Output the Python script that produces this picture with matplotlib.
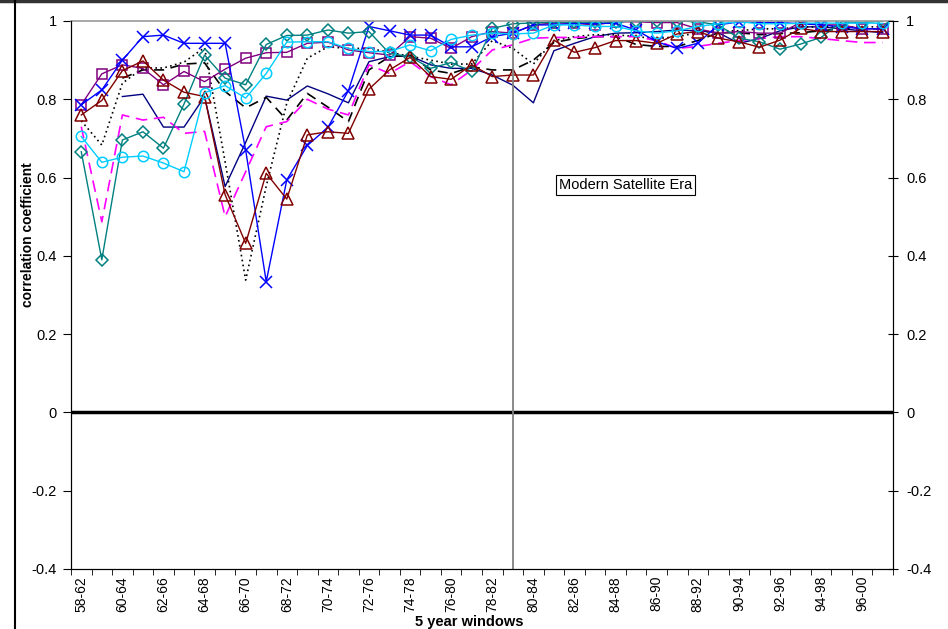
"""Correlation coefficients over 5 year windows, several datasets."""

import numpy as np
import matplotlib

matplotlib.use("Agg")
import matplotlib.pyplot as plt
from matplotlib.lines import Line2D

plt.rcParams["font.family"] = ["Liberation Sans", "DejaVu Sans"]

nan = np.nan

windows = [
    "58-62", "59-63", "60-64", "61-65", "62-66", "63-67", "64-68", "65-69",
    "66-70", "67-71", "68-72", "69-73", "70-74", "71-75", "72-76", "73-77",
    "74-78", "75-79", "76-80", "77-81", "78-82", "79-83", "80-84", "81-85",
    "82-86", "83-87", "84-88", "85-89", "86-90", "87-91", "88-92", "89-93",
    "90-94", "91-95", "92-96", "93-97", "94-98", "95-99", "96-00", "97-01",
]

navy_solid = [
    nan, nan, 0.807, 0.813, 0.729, 0.729, 0.807, 0.577, 0.690, 0.808,
    0.798, 0.834, 0.814, 0.791, 0.896, 0.909, 0.911, 0.888, 0.879, 0.879,
    0.862, 0.836, 0.791, 0.924, 0.943, 0.960, 0.969, 0.970, 0.973, 0.977,
    0.975, 0.970, 0.943, 0.955, 0.975, 0.985, 0.985, 0.980, 0.975, 0.970,
]
black_dotted = [
    0.745, 0.683, 0.841, 0.880, 0.880, 0.895, 0.932, 0.640, 0.338, 0.578,
    0.790, 0.905, 0.934, 0.930, 0.930, 0.920, 0.910, 0.900, 0.890, 0.890,
    0.950, 0.930, 0.890, 0.950, 0.960, 0.965, 0.965, 0.960, 0.955, 0.960,
    0.970, 0.975, 0.975, 0.980, 0.980, 0.985, 0.985, 0.985, 0.985, 0.985,
]
black_dashed = [
    nan, nan, 0.854, 0.875, 0.875, 0.890, 0.893, 0.820, 0.778, 0.805,
    0.747, 0.815, 0.780, 0.743, 0.875, 0.909, 0.913, 0.875, 0.866, 0.883,
    0.875, 0.875, 0.900, 0.945, 0.955, 0.960, 0.960, 0.940, 0.935, 0.935,
    0.950, 0.970, 0.970, 0.965, 0.968, 0.970, 0.975, 0.980, 0.980, 0.980,
]
magenta_dashed = [
    0.730, 0.487, 0.760, 0.747, 0.754, 0.713, 0.718, 0.500, 0.615, 0.730,
    0.743, 0.800, 0.775, 0.760, 0.888, 0.866, 0.896, 0.858, 0.837, 0.875,
    0.926, 0.939, 0.956, 0.958, 0.958, 0.960, 0.960, 0.960, 0.950, 0.930,
    0.935, 0.943, 0.950, 0.955, 0.960, 0.960, 0.955, 0.950, 0.945, 0.945,
]
purple_sq = [
    0.786, 0.865, 0.888, 0.879, 0.837, 0.871, 0.845, 0.877, 0.905, 0.919,
    0.920, 0.943, 0.946, 0.926, 0.919, 0.913, 0.960, 0.956, 0.930, 0.960,
    0.973, 0.969, 0.990, 0.995, 0.994, 0.990, 0.998, 0.998, 0.996, 0.996,
    0.980, 0.969, 0.973, 0.969, 0.969, 0.996, 0.990, 0.990, 0.980, 0.980,
]
blue_x = [
    0.786, 0.824, 0.900, 0.960, 0.964, 0.943, 0.943, 0.943, 0.670, 0.334,
    0.594, 0.682, 0.728, 0.822, 0.986, 0.975, 0.964, 0.964, 0.934, 0.934,
    0.960, 0.969, 0.990, 0.990, 0.994, 0.994, 0.994, 0.977, 0.947, 0.930,
    0.943, 0.990, 0.998, 0.996, 0.996, 0.993, 0.990, 0.985, 0.980, 0.980,
]
teal_dm = [
    0.666, 0.390, 0.696, 0.717, 0.675, 0.788, 0.913, 0.854, 0.837, 0.940,
    0.963, 0.964, 0.977, 0.969, 0.973, 0.917, 0.909, 0.879, 0.894, 0.871,
    0.981, 0.993, 0.995, 0.997, 0.997, 0.997, 0.998, 1.000, 1.000, 1.000,
    0.998, 0.990, 0.956, 0.947, 0.928, 0.941, 0.958, 0.998, 0.996, 1.000,
]
red_tr = [
    0.760, 0.797, 0.873, 0.898, 0.849, 0.818, 0.807, 0.556, 0.432, 0.611,
    0.545, 0.709, 0.717, 0.713, 0.826, 0.875, 0.907, 0.858, 0.851, 0.888,
    0.858, 0.862, 0.862, 0.951, 0.920, 0.932, 0.950, 0.950, 0.943, 0.967,
    0.973, 0.956, 0.947, 0.933, 0.951, 0.981, 0.973, 0.973, 0.973, 0.973,
]
cyan_ci = [
    0.705, 0.639, 0.652, 0.655, 0.637, 0.615, 0.817, 0.835, 0.803, 0.866,
    0.946, 0.947, 0.947, 0.930, 0.922, 0.922, 0.939, 0.924, 0.953, 0.964,
    0.969, 0.967, 0.969, 0.990, 0.990, 0.986, 0.986, 0.975, 0.969, 0.975,
    0.986, 0.993, 0.998, 0.993, 0.993, 0.994, 0.995, 0.994, 0.995, 0.994,
]

y_ticks = [-0.4, -0.2, 0, 0.2, 0.4, 0.6, 0.8, 1]
y_tick_labels = ["-0.4", "-0.2", "0", "0.2", "0.4", "0.6", "0.8", "1"]

satellite_start = "79-83"


def main() -> None:
    W, H = 948, 629
    fig = plt.figure(figsize=(W / 100, H / 100), dpi=100, facecolor="white")
    ax = fig.add_axes([71 / W, 1 - 569 / H, 822 / W, 548 / H])

    x = np.arange(len(windows))

    # (values, color, linestyle, marker, marker size)
    series = [
        (navy_solid, "#000080", "-", None, 0),
        (black_dotted, "black", (0, (1, 2)), None, 0),
        (black_dashed, "black", (0, (6, 4)), None, 0),
        (magenta_dashed, "#FF00FF", (0, (7, 4)), None, 0),
        (purple_sq, "#800080", "-", "s", 7.5),
        (blue_x, "#0000FF", "-", "x", 8),
        (teal_dm, "#008080", "-", "D", 6),
        (red_tr, "#800000", "-", "^", 8),
        (cyan_ci, "#00CCFF", "-", "o", 7.5),
    ]
    for vals, col, ls, mk, ms in series:
        ax.plot(x, vals, color=col, linestyle=ls, lw=1.2 if ls != "-" else 1.0,
                marker=mk, markersize=ms, markerfacecolor="none",
                markeredgecolor=col, markeredgewidth=1.1)

    ax.axhline(0, color="black", lw=2.5, zorder=1)
    ax.axvline(windows.index(satellite_start), color="#808080", lw=1.3)

    ax.text(26.5, 0.581, "Modern Satellite Era", fontsize=10.5, ha="center",
            va="center", bbox=dict(boxstyle="square,pad=0.2", fc="white",
                                   ec="black", lw=0.8))

    ax.set_xlim(-0.5, len(windows) - 0.5)
    ax.set_ylim(-0.4, 1.0)

    ax.set_xticks(x[::2])
    ax.set_xticklabels(windows[::2], rotation=90, fontsize=10)
    ax.set_xticks(np.arange(len(windows) + 1) - 0.5, minor=True)
    ax.tick_params(axis="x", which="major", length=0, pad=5)
    ax.tick_params(axis="x", which="minor", length=4, direction="out")

    ax.set_yticks(y_ticks)
    ax.set_yticklabels(y_tick_labels, fontsize=10.5)
    ax.tick_params(axis="y", length=6, direction="out", pad=4)

    for side in ("left", "bottom", "right"):
        ax.spines[side].set_color("black")
    ax.spines["top"].set_color("#999999")
    ax.spines["top"].set_linewidth(1.2)

    ax2 = ax.twinx()
    ax2.set_ylim(-0.4, 1.0)
    ax2.set_yticks(y_ticks)
    ax2.set_yticklabels(y_tick_labels, fontsize=10.5)
    ax2.tick_params(axis="y", length=7, direction="inout", pad=6)
    ax2.spines["top"].set_visible(False)

    fig.text(28 / W, 1 - 235 / H, "correlation coefficient", rotation=90,
             ha="center", va="center", fontsize=10, fontweight="bold")
    fig.text(469 / W, 1 - 622 / H, "5 year windows", ha="center",
             va="center", fontsize=10.5, fontweight="bold")

    # frame of the surrounding chart area
    fig.add_artist(Line2D([0, 1], [1 - 1.2 / H] * 2, color="#333333", lw=2.5,
                          transform=fig.transFigure))
    fig.add_artist(Line2D([15 / W] * 2, [0, 1], color="black", lw=1.5,
                          transform=fig.transFigure))

    fig.savefig("out.png", dpi=100)


if __name__ == "__main__":
    main()
